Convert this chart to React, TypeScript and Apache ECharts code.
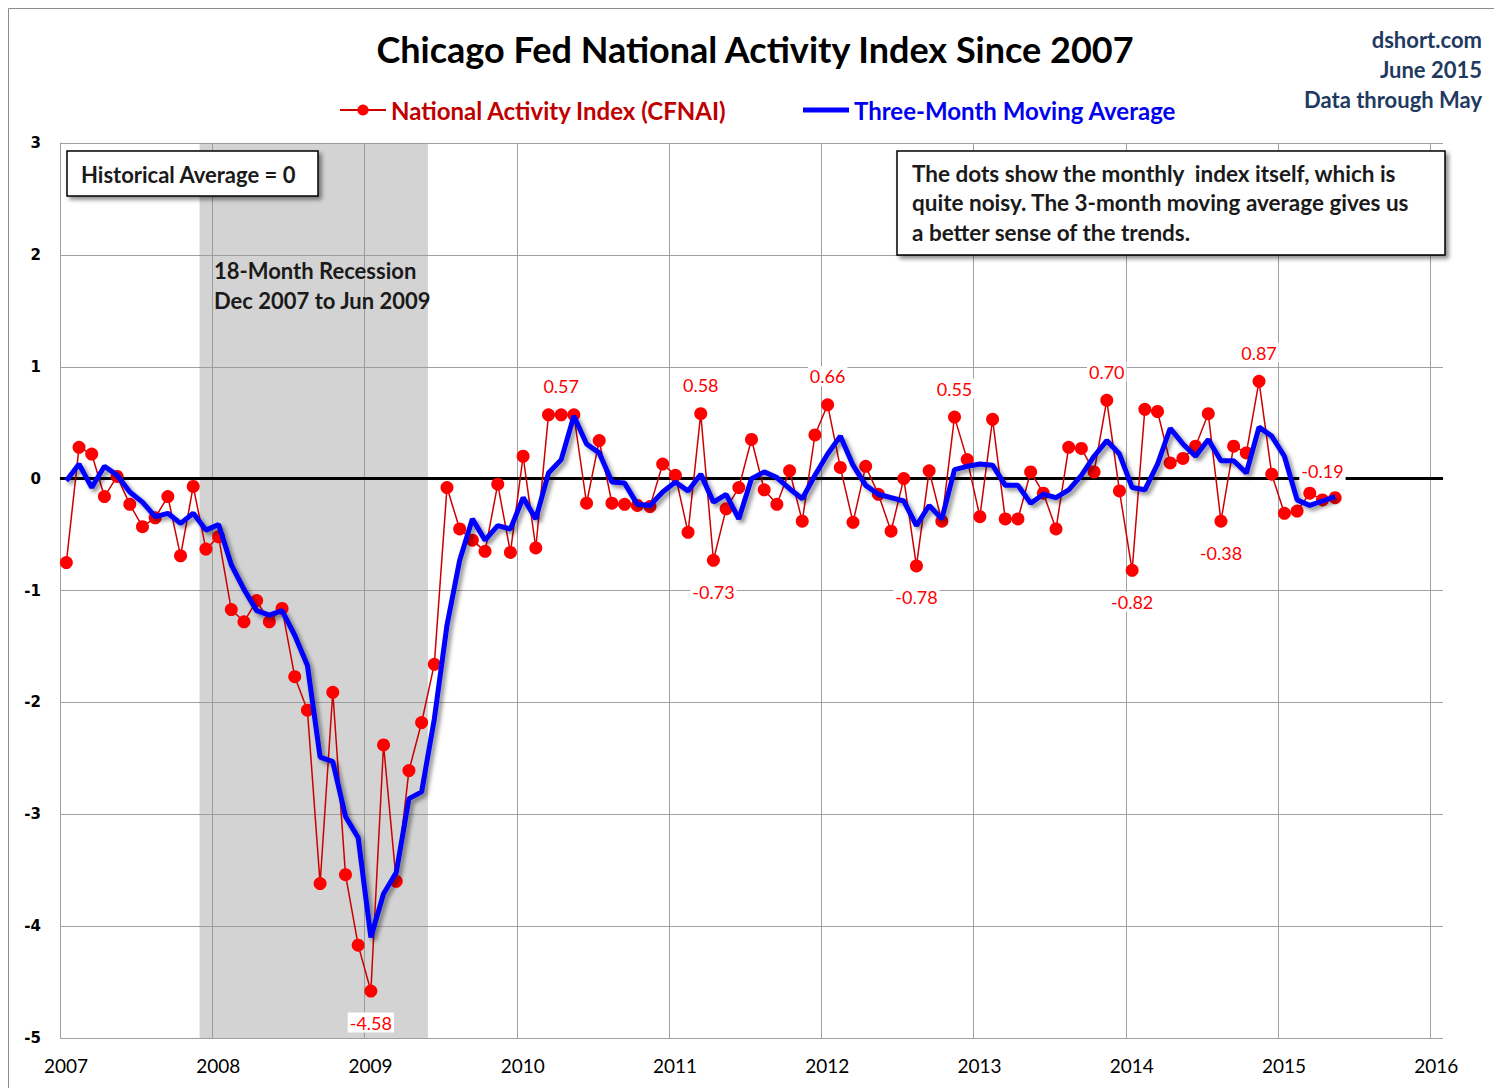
import React, { useEffect, useRef } from "react";
import * as echarts from "echarts";

// ---------- DATA ----------
const startYear = 2007;
const xTickYears = [2007, 2008, 2009, 2010, 2011, 2012, 2013, 2014, 2015, 2016];
const yTickValues = [-5, -4, -3, -2, -1, 0, 1, 2, 3];

// Monthly CFNAI, Jan 2007 .. May 2015
const cfnai = [
  // 2007
  -0.75, 0.28, 0.22, -0.16, 0.02, -0.23, -0.43, -0.35, -0.16, -0.69, -0.07, -0.63,
  // 2008
  -0.52, -1.17, -1.28, -1.09, -1.28, -1.16, -1.77, -2.07, -3.62, -1.91, -3.54, -4.17,
  // 2009
  -4.58, -2.38, -3.6, -2.61, -2.18, -1.66, -0.08, -0.45, -0.55, -0.65, -0.05, -0.66,
  // 2010
  0.2, -0.62, 0.57, 0.57, 0.57, -0.22, 0.34, -0.22, -0.23, -0.24, -0.25, 0.13,
  // 2011
  0.03, -0.48, 0.58, -0.73, -0.27, -0.08, 0.35, -0.1, -0.23, 0.07, -0.38, 0.39,
  // 2012
  0.66, 0.1, -0.39, 0.11, -0.14, -0.47, 0.0, -0.78, 0.07, -0.38, 0.55, 0.17,
  // 2013
  -0.34, 0.53, -0.36, -0.36, 0.06, -0.13, -0.45, 0.28, 0.27, 0.06, 0.7, -0.11,
  // 2014
  -0.82, 0.62, 0.6, 0.14, 0.18, 0.29, 0.58, -0.38, 0.29, 0.23, 0.87, 0.04,
  // 2015
  -0.31, -0.29, -0.13, -0.19, -0.17,
];

// Three-month moving average, Jan 2007 .. May 2015
const cfnaiMA3 = [
  // 2007
  -0.02, 0.13, -0.08, 0.11, 0.03, -0.12, -0.21, -0.34, -0.31, -0.4, -0.31, -0.46,
  // 2008
  -0.41, -0.77, -0.99, -1.18, -1.22, -1.18, -1.4, -1.67, -2.49, -2.53, -3.02, -3.21,
  // 2009
  -4.1, -3.71, -3.52, -2.86, -2.8, -2.15, -1.31, -0.73, -0.36, -0.55, -0.42, -0.45,
  // 2010
  -0.17, -0.36, 0.05, 0.17, 0.56, 0.31, 0.23, -0.03, -0.04, -0.23, -0.24, -0.12,
  // 2011
  -0.03, -0.11, 0.04, -0.21, -0.14, -0.36, 0.0, 0.06, 0.01, -0.09, -0.18, 0.03,
  // 2012
  0.22, 0.38, 0.12, -0.06, -0.14, -0.17, -0.2, -0.42, -0.24, -0.36, 0.08, 0.11,
  // 2013
  0.13, 0.12, -0.06, -0.06, -0.22, -0.14, -0.17, -0.1, 0.03, 0.2, 0.34, 0.22,
  // 2014
  -0.08, -0.1, 0.13, 0.45, 0.31, 0.2, 0.35, 0.16, 0.16, 0.05, 0.46, 0.38,
  // 2015
  0.2, -0.19, -0.24, -0.2, -0.16,
];

// Months whose values are printed
const labelsAbove = ["2010-04", "2011-03", "2012-01", "2012-11", "2013-11", "2014-11", "2015-04"];
const labelsBelow = ["2009-01", "2011-04", "2012-08", "2014-01", "2014-08"];

// Recession (start month, end month)
const recessionStart = [2007, 12];
const recessionEnd = [2009, 6];

const TITLE = "Chicago Fed National Activity Index Since 2007";
const SERIES_RED = "National Activity Index (CFNAI)";
const SERIES_BLUE = "Three-Month Moving Average";
const sourceLines = ["dshort.com", "June 2015", "Data through May"];
const avgNote = "Historical Average = 0";
const recessionNote = ["18-Month Recession", "Dec 2007 to Jun 2009"];
const dotsNote = [
  "The dots show the monthly  index itself, which is",
  "quite noisy. The 3-month moving average gives us",
  "a better sense of the trends.",
];

// ---------- helpers ----------
const monthKey = (i: number) =>
  `${startYear + Math.floor(i / 12)}-${String((i % 12) + 1).padStart(2, "0")}`;
const monthMid = (i: number) => startYear + (i + 0.5) / 12;
const monthStart = (y: number, m: number) => y + (m - 1) / 12;

const FONT = "Lato, 'Open Sans', sans-serif";

export default function App() {
  const ref = useRef<HTMLDivElement>(null);

  useEffect(() => {
    if (!ref.current) return;
    const chart = echarts.init(ref.current, undefined, { renderer: "svg" });

    const labelStyle = {
      show: true,
      color: "#FF0000",
      fontFamily: FONT,
      fontSize: 18,
      backgroundColor: "#FFFFFF",
      padding: [1, 2],
      formatter: (p: any) => Number(p.value[1]).toFixed(2),
    };

    const redData = cfnai.map((v, i) => {
      const key = monthKey(i);
      const item: any = { value: [monthMid(i), v] };
      if (labelsAbove.includes(key)) {
        item.label = { ...labelStyle, position: "top", distance: 12 };
      } else if (labelsBelow.includes(key)) {
        item.label = { ...labelStyle, position: "bottom", distance: 15 };
      }
      return item;
    });
    const blueData = cfnaiMA3.map((v, i) => [monthMid(i), v]);

    const textZ = 100;
    const annoFont = `bold 22.5px ${FONT}`;
    const annoColor = "#1a1a1a";

    const option: any = {
      animation: false,
      backgroundColor: "#FFFFFF",
      legend: {
        left: 334,
        top: 93,
        itemWidth: 46,
        itemHeight: 14,
        itemGap: 76,
        selectedMode: false,
        data: [
          { name: SERIES_RED, textStyle: { color: "#C00000" } },
          {
            name: SERIES_BLUE,
            icon: "path://M0,0H46V5H0Z",
            textStyle: { color: "#0000EE" },
          },
        ],
        textStyle: { fontFamily: FONT, fontSize: 24, fontWeight: "bold" },
      },
      grid: { left: 60, right: 51, top: 143, bottom: 50, containLabel: false },
      xAxis: {
        type: "value",
        min: xTickYears[0],
        max: xTickYears[xTickYears.length - 1] + 1 / 12,
        interval: 1,
        axisLine: { show: true, lineStyle: { color: "#A0A0A0", width: 1 } },
        axisTick: { show: false },
        splitLine: {
          show: true,
          showMaxLine: false,
          lineStyle: { color: "#A0A0A0", width: 1 },
        },
        axisLabel: {
          color: "#000",
          fontFamily: FONT,
          fontSize: 19,
          margin: 18,
          padding: [0, 0, 0, 12],
          showMaxLabel: false,
          formatter: (v: number) =>
            xTickYears.some((y) => Math.abs(y - v) < 1e-6) ? String(Math.round(v)) : "",
        },
      },
      yAxis: {
        type: "value",
        min: yTickValues[0],
        max: yTickValues[yTickValues.length - 1],
        interval: 1,
        axisLine: { show: true, lineStyle: { color: "#A0A0A0", width: 1 } },
        axisTick: { show: false },
        splitLine: { show: true, lineStyle: { color: "#A0A0A0", width: 1 } },
        axisLabel: {
          color: "#000",
          fontFamily: "'DejaVu Sans', sans-serif",
          fontWeight: "bold",
          fontSize: 15,
          margin: 19,
        },
      },
      series: [
        {
          name: SERIES_RED,
          type: "line",
          data: redData,
          symbol: "circle",
          symbolSize: 13,
          showAllSymbol: true,
          z: 3,
          lineStyle: { color: "#CC0000", width: 1.5 },
          itemStyle: { color: "#FF0000" },
          emphasis: { disabled: true },
          markArea: {
            silent: true,
            z: 1,
            itemStyle: { color: "rgba(150,150,150,0.42)" },
            data: [
              [
                { xAxis: monthStart(recessionStart[0], recessionStart[1]) },
                { xAxis: monthStart(recessionEnd[0], recessionEnd[1]) },
              ],
            ],
          },
          markLine: {
            silent: true,
            z: 2,
            symbol: ["none", "none"],
            label: { show: false },
            lineStyle: { color: "#000", width: 3, type: "solid" },
            data: [{ yAxis: 0 }],
          },
        },
        {
          name: SERIES_BLUE,
          type: "line",
          data: blueData,
          symbol: "none",
          z: 4,
          itemStyle: { color: "#0000FF" },
          lineStyle: {
            color: "#0000FF",
            width: 5,
            shadowColor: "rgba(0,0,0,0.45)",
            shadowBlur: 4,
            shadowOffsetX: 3,
            shadowOffsetY: 3,
          },
          emphasis: { disabled: true },
        },
      ],
      graphic: [
        {
          type: "rect",
          z: textZ,
          silent: true,
          shape: { x: 8.5, y: 8.5, width: 1500, height: 1100 },
          style: { fill: "none", stroke: "#8C8C8C", lineWidth: 1 },
        },
        {
          type: "text",
          z: textZ,
          x: 755,
          y: 49,
          style: {
            text: TITLE,
            fill: "#000",
            font: `bold 36px ${FONT}`,
            textAlign: "center",
            textVerticalAlign: "middle",
          },
        },
        ...sourceLines.map((t, i) => ({
          type: "text",
          z: textZ,
          x: 1482,
          y: 39 + i * 30,
          style: {
            text: t,
            fill: "#1F3A60",
            font: `bold 22px ${FONT}`,
            textAlign: "right",
            textVerticalAlign: "middle",
          },
        })),
        {
          type: "rect",
          z: textZ,
          shape: { x: 67, y: 151, width: 251, height: 45 },
          style: {
            fill: "#fff",
            stroke: "#000",
            lineWidth: 1.5,
            shadowColor: "rgba(0,0,0,0.45)",
            shadowBlur: 4,
            shadowOffsetX: 3,
            shadowOffsetY: 3,
          },
        },
        {
          type: "text",
          z: textZ + 1,
          x: 81,
          y: 174,
          style: {
            text: avgNote,
            fill: annoColor,
            font: `bold 22px ${FONT}`,
            textAlign: "left",
            textVerticalAlign: "middle",
          },
        },
        ...recessionNote.map((t, i) => ({
          type: "text",
          z: textZ,
          x: 214,
          y: 270 + i * 30,
          style: {
            text: t,
            fill: annoColor,
            font: `bold 22px ${FONT}`,
            textAlign: "left",
            textVerticalAlign: "middle",
          },
        })),
        {
          type: "rect",
          z: textZ,
          shape: { x: 897, y: 151, width: 548, height: 104 },
          style: {
            fill: "#fff",
            stroke: "#000",
            lineWidth: 1.5,
            shadowColor: "rgba(0,0,0,0.45)",
            shadowBlur: 4,
            shadowOffsetX: 3,
            shadowOffsetY: 3,
          },
        },
        ...dotsNote.map((t, i) => ({
          type: "text",
          z: textZ + 1,
          x: 912,
          y: 173 + i * 29.5,
          style: {
            text: t,
            fill: annoColor,
            font: annoFont,
            textAlign: "left",
            textVerticalAlign: "middle",
          },
        })),
      ],
    };

    chart.setOption(option);
    return () => chart.dispose();
  }, []);

  return (
    <div
      ref={ref}
      style={{ position: "absolute", left: 0, top: 0, width: 1494, height: 1088 }}
    />
  );
}
